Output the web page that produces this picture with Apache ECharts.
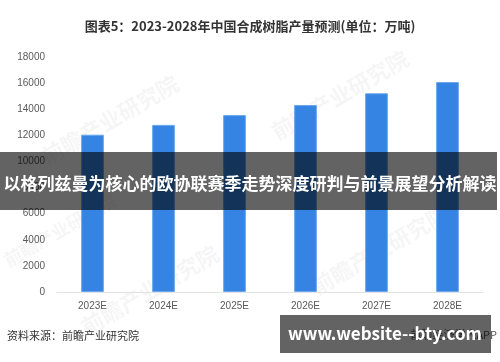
<!DOCTYPE html>
<html><head><meta charset="utf-8">
<script src="https://cdn.jsdelivr.net/npm/echarts@6/dist/echarts.min.js"></script>
<style>html,body{margin:0;padding:0;background:#fff}#c{width:500px;height:362px}</style>
</head><body><div id="c"></div>
<script>
const categories = ['2023E','2024E','2025E','2026E','2027E','2028E'];
const production = [12050, 12800, 13550, 14320, 15220, 16080];
const yTicks = [0,2000,4000,6000,8000,10000,12000,14000,16000,18000];
const titleText = '图表5：2023-2028年中国合成树脂产量预测(单位：万吨)';
const sourceText = '资料来源：前瞻产业研究院';
const bannerText = '以格列兹曼为核心的欧协联赛季走势深度研判与前景展望分析解读';
const siteText = 'www.website--bty.com';
const wmText = '前瞻产业研究院';

const chart = echarts.init(document.getElementById('c'), null, {renderer:'canvas'});
const font = '"Noto Sans CJK SC","Noto Sans",sans-serif';
const wm = (x,y,s) => ({type:'text', x:x, y:y, rotation:Math.PI/6, z:0, silent:true,
  style:{text:wmText, fontSize:s, fontWeight:'bold', fontFamily:font, fill:'rgba(0,0,0,0.04)', align:'center', verticalAlign:'middle'}});
chart.setOption({
  animation:false,
  textStyle:{fontFamily:font},
  title:{text:titleText, left:'center', top:15, textStyle:{fontSize:13, fontWeight:'bold', color:'#333', fontFamily:font}},
  grid:{left:57, right:17, top:57, bottom:70, containLabel:false},
  xAxis:{type:'category', data:categories,
    axisLine:{lineStyle:{color:'#e3e3e3'}}, axisTick:{show:false},
    axisLabel:{color:'#595959', fontSize:10, margin:9, fontFamily:'"Liberation Sans",Arial,sans-serif'}},
  yAxis:{type:'value', min:yTicks[0], max:yTicks[yTicks.length-1], interval:2000,
    splitLine:{show:false}, axisLine:{show:false}, axisTick:{show:false},
    axisLabel:{color:'#595959', fontSize:10, margin:12, formatter:v => String(v), fontFamily:'"Liberation Sans",Arial,sans-serif'}},
  series:[{type:'bar', data:production, barWidth:'32%',
    itemStyle:{color:'#3584e4', borderColor:'#6aa6ee', borderWidth:1}, z:2}],
  graphic:[
    wm(110,120,22), wm(340,95,22), wm(150,290,22), wm(380,250,22), wm(60,230,18),
    {type:'rect', shape:{x:0,y:152,width:497,height:58}, z:100, style:{fill:'rgba(0,0,0,0.61)'}},
    {type:'text', x:250, y:184, z:101, style:{text:bannerText, fontSize:17, fontWeight:'bold', fill:'#fff', fontFamily:font, align:'center', verticalAlign:'middle'}},
    {type:'text', x:7, y:336, z:50, style:{text:sourceText, fontSize:11, fill:'#333', fontFamily:font, verticalAlign:'middle'}},
    {type:'text', x:497, y:335, z:50, style:{text:'前瞻经济学人APP', fontSize:11, fill:'#555', fontFamily:font, align:'right', verticalAlign:'middle'}},
    {type:'rect', shape:{x:280,y:315,width:211,height:38}, z:100, style:{fill:'rgba(0,0,0,0.61)'}},
    {type:'text', x:385, y:334, z:101, style:{text:siteText, fontSize:17, fontWeight:'bold', fill:'#fff', fontFamily:font, align:'center', verticalAlign:'middle'}}
  ]
});
</script></body></html>
